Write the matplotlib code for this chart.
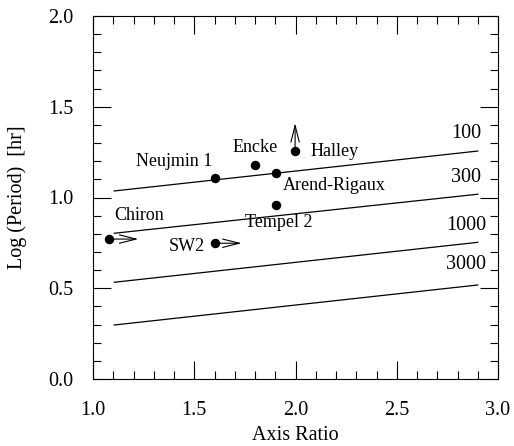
import matplotlib
matplotlib.use("Agg")
import matplotlib.pyplot as plt
from matplotlib.ticker import MultipleLocator

plt.rcParams['font.family'] = ['Liberation Serif', 'DejaVu Serif']

# ---- data ----
curve_x = [1.105, 2.90]
curve_100 = [1.036, 1.256]
curve_300 = [0.803, 1.018]
curve_1000 = [0.533, 0.753]
curve_3000 = [0.2975, 0.518]
curve_labels = ["100", "300", "1000", "3000"]
curve_label_y = [1.350, 1.111, 0.848, 0.632]

comet_names = ["Neujmin 1", "Encke", "Halley", "Arend-Rigaux", "Tempel 2", "SW2", "Chiron"]
comet_ratio = [1.602, 1.800, 1.998, 1.902, 1.902, 1.602, 1.079]
comet_logp = [1.106, 1.179, 1.258, 1.133, 0.959, 0.748, 0.771]

# lower-limit arrows: (name, tip x, tip y)
limit_names = ["Halley", "SW2", "Chiron"]
limit_tip_x = [1.998, 1.734, 1.224]
limit_tip_y = [1.410, 0.748, 0.771]

# ---- layout / style ----
label_offsets_px = {
    "Neujmin 1": (-41, 17),
    "Encke": (0, 18),
    "Halley": (39, -1),
    "Arend-Rigaux": (59, -12),
    "Tempel 2": (3, -18),
    "SW2": (-28, -3),
    "Chiron": (30, 24),
}

fig = plt.figure(figsize=(5.14, 4.46), dpi=100)
ax = fig.add_axes([93/514, 1 - 379/446, 405/514, 363/446])

for ys in [curve_100, curve_300, curve_1000, curve_3000]:
    ax.plot(curve_x, ys, color='black', lw=0.9)

for lab, ly in zip(curve_labels, curve_label_y):
    ax.text(2.842, ly, lab, ha='center', va='center', fontsize=14.5)

ax.plot(comet_ratio, comet_logp, 'o', color='black', markersize=5.8, zorder=3)

for name, x, y in zip(comet_names, comet_ratio, comet_logp):
    dx, dy = label_offsets_px[name]
    ax.annotate(name, xy=(x, y), xytext=(dx, dy), textcoords='offset pixels',
                ha='center', va='center', fontsize=13)

for name, tx, ty in zip(limit_names, limit_tip_x, limit_tip_y):
    i = comet_names.index(name)
    ax.annotate('', xy=(tx, ty), xytext=(comet_ratio[i], comet_logp[i]),
                arrowprops=dict(arrowstyle='->, head_length=1.2, head_width=0.3',
                                color='black', lw=0.8, shrinkA=0, shrinkB=0,
                                mutation_scale=10))

ax.set_xlim(1.0, 3.0)
ax.set_ylim(0.0, 2.0)
ax.xaxis.set_major_locator(MultipleLocator(0.5))
ax.xaxis.set_minor_locator(MultipleLocator(0.1))
ax.yaxis.set_major_locator(MultipleLocator(0.5))
ax.yaxis.set_minor_locator(MultipleLocator(0.1))
ax.xaxis.set_major_formatter(plt.FormatStrFormatter('%.1f'))
ax.yaxis.set_major_formatter(plt.FormatStrFormatter('%.1f'))

ax.tick_params(which='both', direction='in', top=True, right=True, width=0.8, labelsize=14.5)
ax.tick_params(which='major', length=13)
ax.tick_params(which='minor', length=6)
ax.tick_params(axis='x', which='major', pad=16)
ax.tick_params(axis='y', which='major', pad=14)
for s in ax.spines.values():
    s.set_linewidth(0.8)

ax.set_xlabel("Axis Ratio", fontsize=14.5)
ax.set_ylabel("Log (Period)  [hr]", fontsize=14.5)
ax.xaxis.label.set_va('center')
ax.yaxis.label.set_va('center')
ax.xaxis.set_label_coords(0.5, -(435 - 379) / 363)
ax.yaxis.set_label_coords(-(93 - 17) / 405, 0.5)

fig.savefig("out.png", dpi=100)
